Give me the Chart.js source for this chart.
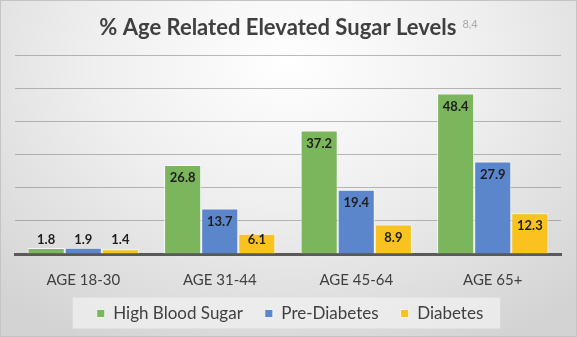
<!DOCTYPE html>
<html>
<head>
<meta charset="utf-8">
<script src="https://cdn.jsdelivr.net/npm/chart.js@4"></script>
<style>
  html, body { margin: 0; padding: 0; }
  #wrap {
    width: 577px; height: 337px; box-sizing: border-box;
    border: 1px solid #c4c4c4;
    background: radial-gradient(ellipse 75% 95% at 50% 18%, #ffffff 0%, #efefef 45%, #d3d3d3 100%);
  }
  canvas { display: block; }
</style>
</head>
<body>
<div id="wrap"><canvas id="c" width="575" height="335"></canvas></div>
<script>
const categories = ['AGE 18-30', 'AGE 31-44', 'AGE 45-64', 'AGE 65+'];
const highBloodSugar = [1.8, 26.8, 37.2, 48.4];
const preDiabetes = [1.9, 13.7, 19.4, 27.9];
const diabetes = [1.4, 6.1, 8.9, 12.3];
const seriesNames = ['High Blood Sugar', 'Pre-Diabetes', 'Diabetes'];
const titleText = '% Age Related Elevated Sugar Levels';
const titleSup = '8,4';
const yMax = 60;
const yStep = 10;

const FONT = 'Lato, "Open Sans", sans-serif';

const titlePlugin = {
  id: 'titleSup',
  afterDraw(chart) {
    const ctx = chart.ctx;
    ctx.save();
    ctx.font = 'bold 22px ' + FONT;
    const w1 = ctx.measureText(titleText).width;
    ctx.font = '11px ' + FONT;
    const w2 = ctx.measureText(titleSup).width;
    const gap = 6;
    const total = w1 + gap + w2;
    const x0 = chart.width / 2 - total / 2;
    ctx.textBaseline = 'alphabetic';
    ctx.textAlign = 'left';
    ctx.fillStyle = '#404040';
    ctx.font = 'bold 22px ' + FONT;
    ctx.fillText(titleText, x0, 34);
    ctx.fillStyle = '#a8a8a8';
    ctx.font = '11px ' + FONT;
    ctx.fillText(titleSup, x0 + w1 + gap, 27);
    ctx.restore();
  }
};

const legendShiftPlugin = {
  id: 'legendShift',
  afterLayout(chart) {
    const lg = chart.legend;
    if (lg) { lg.top -= 4; lg.bottom -= 4; lg.left += 2; lg.right += 2; }
  }
};

const legendBoxPlugin = {
  id: 'legendBox',
  beforeDraw(chart) {
    const lg = chart.legend;
    if (!lg || !lg.legendHitBoxes || !lg.legendHitBoxes.length) return;
    const hb = lg.legendHitBoxes;
    const left = Math.min(...hb.map(h => h.left)) - 24;
    const right = Math.max(...hb.map(h => h.left + h.width)) + 17;
    const cy = hb[0].top + hb[0].height / 2;
    const ctx = chart.ctx;
    ctx.save();
    ctx.fillStyle = 'rgba(240,240,240,0.75)';
    ctx.fillRect(left, cy - 16, right - left, 31);
    ctx.restore();
  }
};

const labelPlugin = {
  id: 'barLabels',
  afterDatasetsDraw(chart) {
    const ctx = chart.ctx;
    ctx.save();
    ctx.font = 'bold 13px ' + FONT;
    ctx.fillStyle = '#1e1e1e';
    ctx.textAlign = 'center';
    ctx.textBaseline = 'middle';
    chart.data.datasets.forEach((ds, di) => {
      const meta = chart.getDatasetMeta(di);
      meta.data.forEach((bar, i) => {
        const y = Math.min(bar.y + 13, bar.base - 13.5);
        ctx.fillText(ds.data[i].toFixed(1), bar.x, y);
      });
    });
    ctx.restore();
  }
};

new Chart(document.getElementById('c'), {
  type: 'bar',
  data: {
    labels: categories,
    datasets: [
      { label: seriesNames[0], data: highBloodSugar, backgroundColor: '#7bb55c' },
      { label: seriesNames[1], data: preDiabetes, backgroundColor: '#5b86cb' },
      { label: seriesNames[2], data: diabetes, backgroundColor: '#f9c21f' }
    ].map(d => Object.assign(d, { borderColor: 'rgba(255,255,255,0.75)', borderWidth: 1, barPercentage: 1, categoryPercentage: 0.815 }))
  },
  options: {
    responsive: false,
    animation: false,
    layout: { padding: { left: 14, right: 15, top: 54, bottom: 0 } },
    scales: {
      x: {
        grid: { display: false },
        border: { display: true, color: '#595959', width: 3 },
        ticks: { color: '#404040', font: { family: FONT, size: 15, lineHeight: 1 }, padding: 11, maxRotation: 0 },
        afterFit(scale) { scale.height = 33; }
      },
      y: {
        min: 0, max: yMax,
        ticks: { display: false, stepSize: yStep },
        border: { display: false },
        grid: { color: 'rgba(120,120,120,0.5)', drawTicks: false, lineWidth: 1 },
        afterFit(scale) { scale.width = 0; }
      }
    },
    plugins: {
      title: { display: false },
      tooltip: { enabled: false },
      legend: {
        position: 'bottom',
        labels: {
          color: '#404040',
          font: { family: FONT, size: 17 },
          boxWidth: 8, boxHeight: 8, padding: 22
        }
      }
    }
  },
  plugins: [legendShiftPlugin, legendBoxPlugin, labelPlugin, titlePlugin]
});
</script>
</body>
</html>
